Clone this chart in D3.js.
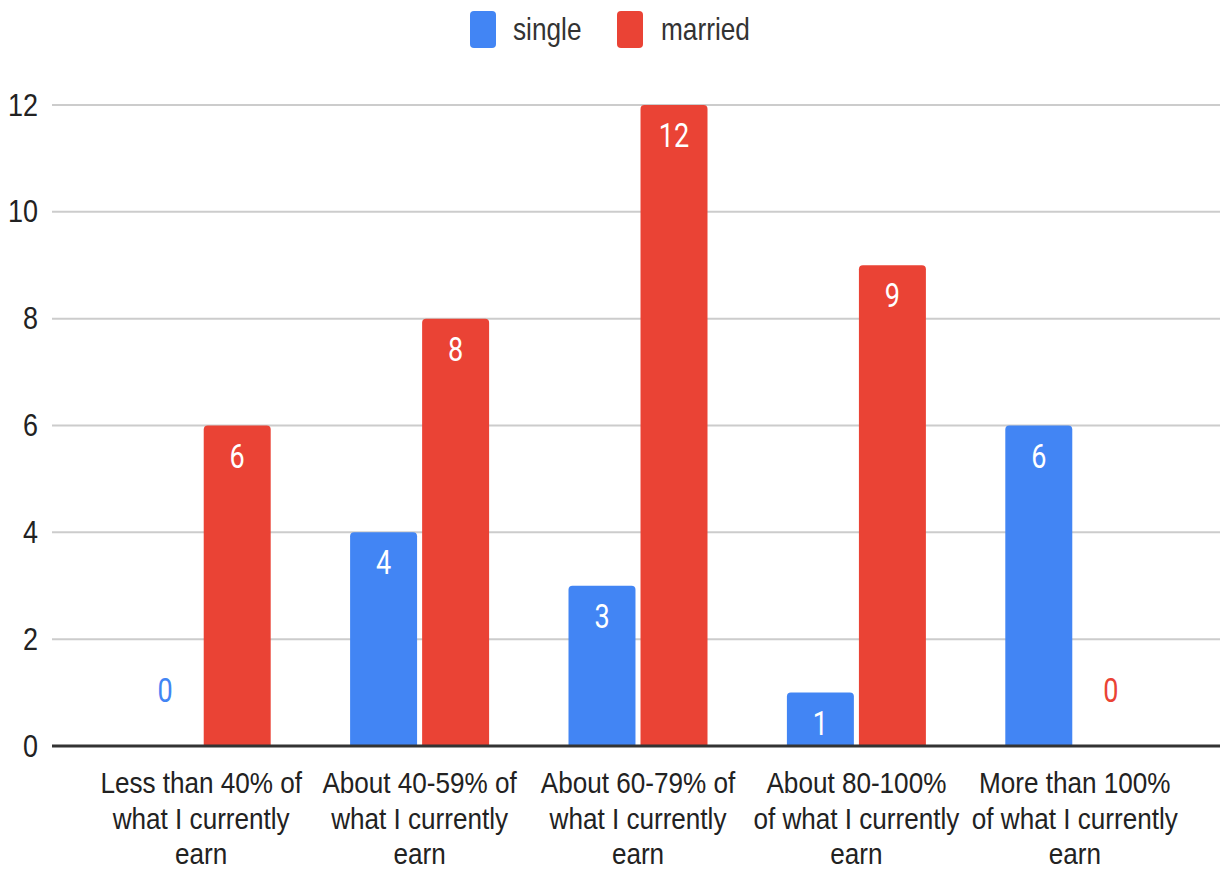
<!DOCTYPE html>
<html>
<head>
<meta charset="utf-8">
<script src="https://cdn.jsdelivr.net/npm/d3@7"></script>
<style>
  html, body { margin: 0; padding: 0; background: #fff; }
  svg { display: block; }
  .axis-text { font-family: "Liberation Sans", Arial, sans-serif; fill: #222; }
  .value-text { font-family: Roboto, "Noto Sans", sans-serif; }
</style>
</head>
<body>
<svg id="chart" width="1220" height="871"></svg>
<script>
// Retirement income expectation by marital status
const categories = [
  ["Less than 40% of", "what I currently", "earn"],
  ["About 40-59% of", "what I currently", "earn"],
  ["About 60-79% of", "what I currently", "earn"],
  ["About 80-100%", "of what I currently", "earn"],
  ["More than 100%", "of what I currently", "earn"]
];
const seriesNames = ["single", "married"];
const singleValues = [0, 4, 3, 1, 6];
const marriedValues = [6, 8, 12, 9, 0];
const yTicks = [0, 2, 4, 6, 8, 10, 12];
const colors = ["#4285F4", "#EA4335"];

const svg = d3.select("#chart");
const squeeze = 0.87; // glyphs are drawn horizontally narrowed

const plot = { left: 52, right: 1220, top: 105, bottom: 746 };

const x0 = d3.scaleBand()
  .domain(d3.range(categories.length))
  .range([92, 1184]);
const groupWidth = 139;
const x1 = d3.scaleBand()
  .domain(seriesNames)
  .range([0, groupWidth])
  .paddingInner(0.07);

const y = d3.scaleLinear().domain([0, 12]).range([plot.bottom, plot.top]);

function place(sel, cx, cy, sx) {
  return sel.attr("transform", `translate(${cx},${cy}) scale(${sx},1)`);
}

// gridlines
svg.append("g").selectAll("line")
  .data(yTicks.filter(t => t !== 0))
  .join("line")
  .attr("x1", plot.left).attr("x2", plot.right)
  .attr("y1", d => y(d)).attr("y2", d => y(d))
  .attr("stroke", "#cccccc").attr("stroke-width", 2);

// y tick labels
svg.append("g").selectAll("text")
  .data(yTicks)
  .join("text")
  .attr("class", "axis-text")
  .each(function(d) { place(d3.select(this), 38, y(d) + 10.5, squeeze); })
  .attr("text-anchor", "end")
  .attr("font-size", 31)
  .text(d => d);

// bars
const rows = categories.map((c, i) => [
  { s: "single", v: singleValues[i], c: colors[0] },
  { s: "married", v: marriedValues[i], c: colors[1] }
]);

function topRoundedRect(x, yTop, w, h, r) {
  r = Math.min(r, h, w / 2);
  return `M${x},${yTop + h}V${yTop + r}Q${x},${yTop} ${x + r},${yTop}H${x + w - r}Q${x + w},${yTop} ${x + w},${yTop + r}V${yTop + h}Z`;
}

const groups = svg.append("g").selectAll("g")
  .data(rows)
  .join("g")
  .attr("transform", (d, i) => `translate(${x0(i) + (x0.bandwidth() - groupWidth) / 2},0)`);

groups.selectAll("path")
  .data(d => d.filter(e => e.v > 0))
  .join("path")
  .attr("d", d => topRoundedRect(x1(d.s), y(d.v), x1.bandwidth(), y(0) - y(d.v), 4))
  .attr("fill", d => d.c);

// value labels: inside the bar top, or above the axis for empty bars
groups.selectAll("text")
  .data(d => d)
  .join("text")
  .attr("class", "value-text")
  .each(function(d) {
    const cx = x1(d.s) + x1.bandwidth() / 2;
    const cy = d.v > 0 ? y(d.v) + 42 : y(0) - 44;
    place(d3.select(this), cx, cy, 0.82);
  })
  .attr("text-anchor", "middle")
  .attr("font-size", 33)
  .attr("font-weight", 400)
  .attr("fill", d => d.v > 0 ? "#ffffff" : d.c)
  .text(d => d.v);

// baseline
svg.append("line")
  .attr("x1", plot.left).attr("x2", plot.right)
  .attr("y1", y(0)).attr("y2", y(0))
  .attr("stroke", "#333").attr("stroke-width", 3);

// category labels
svg.append("g").selectAll("g")
  .data(categories)
  .join("g")
  .each(function(lines, i) {
    const g = d3.select(this);
    lines.forEach((line, k) => {
      place(g.append("text"), x0(i) + x0.bandwidth() / 2, 793 + k * 35.5, squeeze)
        .attr("class", "axis-text")
        .attr("text-anchor", "middle")
        .attr("font-size", 30)
        .text(line);
    });
  });

// legend
const legend = svg.append("g");
const legendItems = [
  { name: seriesNames[0], c: colors[0], sx: 470, tx: 513 },
  { name: seriesNames[1], c: colors[1], sx: 617, tx: 661 }
];
legendItems.forEach(d => {
  legend.append("rect")
    .attr("x", d.sx).attr("y", 11).attr("width", 26).attr("height", 37)
    .attr("rx", 4).attr("fill", d.c);
  place(legend.append("text"), d.tx, 40, 0.82)
    .attr("class", "axis-text")
    .attr("font-size", 32)
    .style("fill", "#333")
    .text(d.name);
});
</script>
</body>
</html>
